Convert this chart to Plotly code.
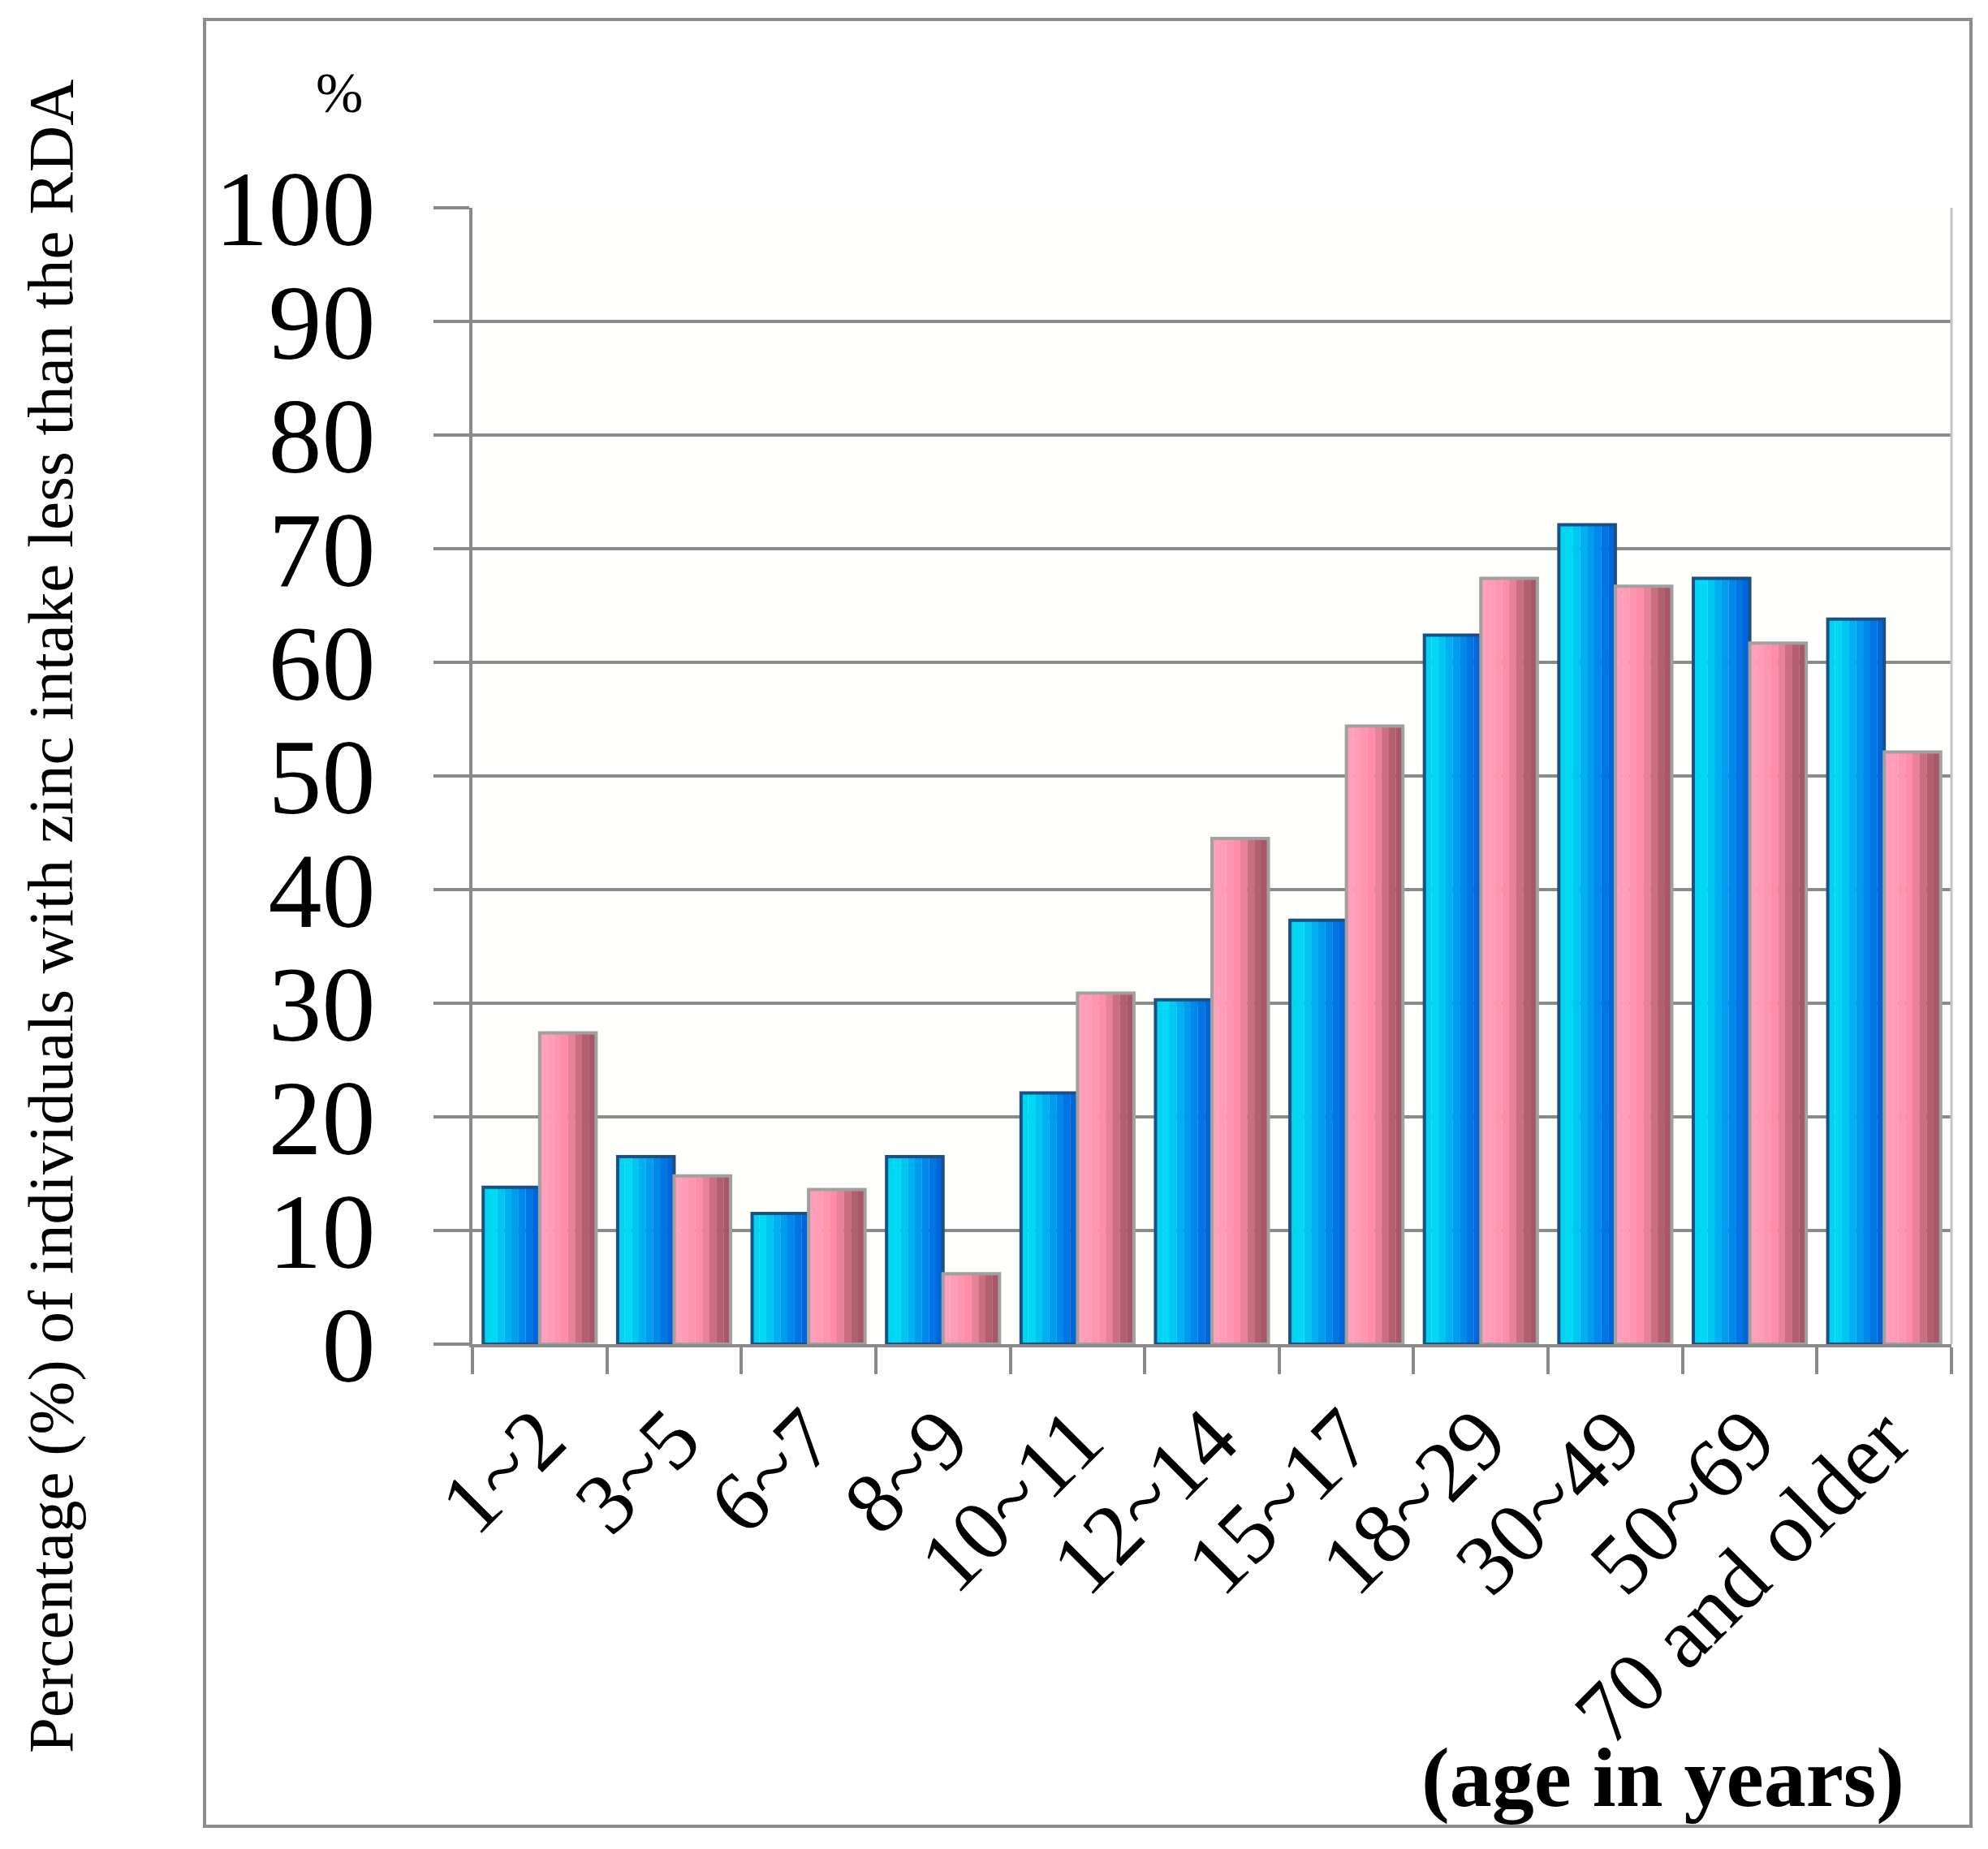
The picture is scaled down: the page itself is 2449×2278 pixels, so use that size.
import plotly.graph_objects as go

categories = ["1~2", "3~5", "6~7", "8~9", "10~11", "12~14", "15~17",
              "18~29", "30~49", "50~69", "70 and older"]
series_a = [13.8, 16.5, 11.5, 16.5, 22.1, 30.3, 37.3, 62.4, 72.1, 67.4, 63.8]
series_b = [27.4, 14.8, 13.6, 6.2, 30.9, 44.5, 54.4, 67.4, 66.7, 61.7, 52.1]
y_ticks = [0, 10, 20, 30, 40, 50, 60, 70, 80, 90, 100]

W, H = 2449, 2278
OFF = 8  # page body margin compensation
L, R, T, B = 582 - OFF, 45 + OFF, 256 - OFF, 622 + OFF
PW, PH = W - L - R, H - T - B

def px_x(x):
    return (x - OFF - L) / PW

def px_y(y):
    return (H - B - (y - OFF)) / PH

FONT = "Liberation Serif"
GRID = "#8a8a8a"

blue_grad = ["#00d4f2", "#00d8f4", "#00c6f2", "#00b0f0",
             "#009cee", "#0088ea", "#0076e4", "#0066da"]
pink_grad = ["#ff9fbb", "#ff9cb7", "#ff96b0", "#ff8da7",
             "#ea819a", "#cc6d80", "#b25f70", "#a65868"]

bw = 0.42
fig = go.Figure()

def add_series(vals, grad, start, outline):
    n = len(grad)
    sw = bw / n
    for k, col in enumerate(grad):
        fig.add_trace(go.Bar(
            x=categories, y=vals, offset=start + k * sw, width=sw * 1.02,
            marker=dict(color=col, line=dict(width=0)),
            showlegend=False, hoverinfo="skip"))
    fig.add_trace(go.Bar(
        x=categories, y=vals, offset=start, width=bw,
        marker=dict(color="rgba(0,0,0,0)", line=dict(color=outline, width=4)),
        showlegend=False))

add_series(series_a, blue_grad, -bw, "#1c4f82")
add_series(series_b, pink_grad, 0.0, "#a0a0a0")

fig.update_layout(
    width=W, height=H,
    margin=dict(l=L, r=R, t=T, b=B, pad=0),
    barmode="overlay",
    paper_bgcolor="white",
    plot_bgcolor="#fefefc",
    font=dict(family=FONT, color="black"),
    xaxis=dict(
        type="category",
        tickson="boundaries",
        ticks="outside", ticklen=33, tickwidth=4, tickcolor=GRID,
        showline=True, linecolor=GRID, linewidth=4,
        showgrid=False,
        tickangle=-45,
        tickfont=dict(family=FONT, size=106, color="black"),
        ticklabelstandoff=8,
        range=[-0.5, len(categories) - 0.5],
    ),
    yaxis=dict(
        range=[0, 100],
        tickvals=y_ticks,
        ticks="outside", ticklen=44, tickwidth=4, tickcolor=GRID,
        showgrid=True, gridcolor=GRID, gridwidth=4,
        zeroline=False,
        showline=True, linecolor=GRID, linewidth=4,
        tickfont=dict(family=FONT, size=132, color="black"),
        ticklabelstandoff=45,
    ),
    shapes=[
        dict(type="rect", xref="paper", yref="paper",
             x0=px_x(252), x1=px_x(2428), y0=px_y(2250), y1=px_y(24),
             line=dict(color="#8c8c8c", width=4), fillcolor="rgba(0,0,0,0)",
             layer="below"),
        dict(type="line", xref="paper", yref="paper",
             x0=1, x1=1, y0=0, y1=1,
             line=dict(color="#c4c4c4", width=3)),
    ],
    annotations=[
        dict(text="Percentage (%) of individuals with zinc intake less than the RDA",
             xref="paper", yref="paper", x=px_x(62), y=px_y(1129),
             textangle=-90, showarrow=False, xanchor="center", yanchor="middle",
             font=dict(family=FONT, size=79, color="black")),
        dict(text="%", xref="paper", yref="paper", x=px_x(418), y=px_y(115),
             showarrow=False, xanchor="center", yanchor="middle",
             font=dict(family=FONT, size=70, color="black")),
        dict(text="<b>(age in years)</b>", xref="paper", yref="paper",
             x=px_x(2048), y=px_y(2190),
             showarrow=False, xanchor="center", yanchor="middle",
             font=dict(family=FONT, size=104, color="black")),
    ],
)

fig.write_html("out.html")
